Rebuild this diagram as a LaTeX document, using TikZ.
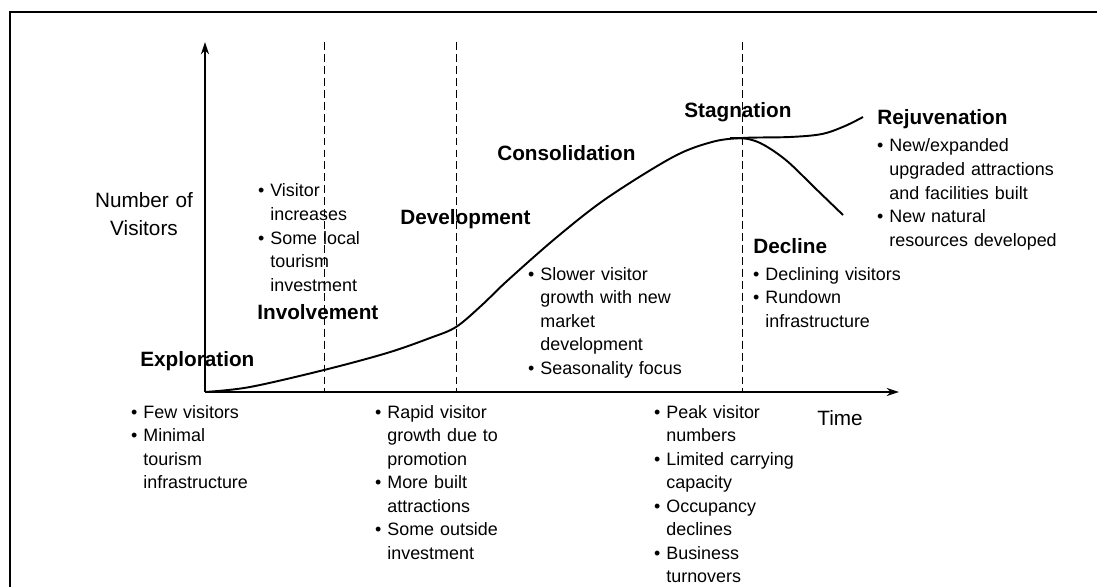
\documentclass[tikz,border=0pt]{standalone}
\usepackage{fontspec}
\setmainfont{Liberation Sans}
\usetikzlibrary{arrows.meta}

\tikzset{
  stage/.style={font=\fontsize{11.8}{14}\selectfont\bfseries, anchor=base west, inner sep=0pt},
  notes/.style={font=\fontsize{10.2}{13.4}\selectfont, anchor=base west, inner sep=0pt, text width=4.5cm, align=left},
  axislabel/.style={font=\fontsize{11.8}{15.9}\selectfont, inner sep=0pt},
  phase/.style={dash pattern=on 4.5pt off 2.3pt, line width=0.55pt},
}
\newcommand{\itm}{\leavevmode\llap{\textbullet\ }}

\begin{document}
\begin{tikzpicture}[x=0.02cm, y=-0.02cm, >={Stealth[length=7pt,width=4.6pt]}]
	\useasboundingbox (0,0) rectangle (1097,587);

	% Frame
	\draw[line width=1.1pt] (10,587) -- (10,12) -- (1097,12);

	% Axes
	\coordinate (O) at (205,392);
	\coordinate (ytop) at (205,42);
	\coordinate (xend) at (899,392);
	\draw[->, line width=0.85pt] (O) -- (ytop);
	\draw[->, line width=0.85pt] (O) -- (xend);

	% Stage limits
	\foreach \xd [count=\i] in {324,456,742} {
		\coordinate (top\i) at (\xd,42);
		\coordinate (bot\i) at (\xd,392);
		\draw[phase] (top\i) -- (bot\i);
	}

	% Life cycle curve
	\draw[line width=1.1pt] plot[smooth, tension=0.55] coordinates {(205,392) (250,387) (324,370) (387,353) (430,338) (456,327) (482,305) (507,281) (557,237) (607,198) (673,157) (712,142) (742,138) (790,137) (822,134) (845,126) (863,117)};
	\draw[line width=1.1pt] plot[smooth, tension=0.55] coordinates {(730,138) (748,139) (764,145) (787,161) (815,188) (843,215)};

	% Axis labels
	\node[axislabel, anchor=base, text width=3cm, align=center] (visitors) at (144,208) {Number of\\Visitors};
	\node[axislabel, anchor=base west] (time) at (817,425) {Time};

	% Stages
	\node[stage] (exploration) at (140,366) {Exploration};
	\node[notes] (exploration-notes) at (143,418) {\itm Few visitors\\\itm Minimal\\tourism\\infrastructure};

	\node[notes] (involvement-notes) at (270,197) {\itm Visitor\\increases\\\itm Some local\\tourism\\investment};
	\node[stage] (involvement) at (257,319) {Involvement};

	\node[stage] (development) at (400,225) {Development};
	\node[notes] (development-notes) at (387,418) {\itm Rapid visitor\\growth due to\\promotion\\\itm More built\\attractions\\\itm Some outside\\investment};

	\node[stage] (consolidation) at (497,161) {Consolidation};
	\node[notes] (consolidation-notes) at (540,280) {\itm Slower visitor\\growth with new\\market\\development\\\itm Seasonality focus};

	\node[stage] (stagnation) at (684,118) {Stagnation};
	\node[notes] (stagnation-notes) at (666,418) {\itm Peak visitor\\numbers\\\itm Limited carrying\\capacity\\\itm Occupancy\\declines\\\itm Business\\turnovers};

	\node[stage] (decline) at (753,254) {Decline};
	\node[notes] (decline-notes) at (765,280) {\itm Declining visitors\\\itm Rundown\\infrastructure};

	\node[stage] (rejuvenation) at (877,125) {Rejuvenation};
	\node[notes] (rejuvenation-notes) at (889,152) {\itm New/expanded\\upgraded attractions\\and facilities built\\\itm New natural\\resources developed};

\end{tikzpicture}
\end{document}
